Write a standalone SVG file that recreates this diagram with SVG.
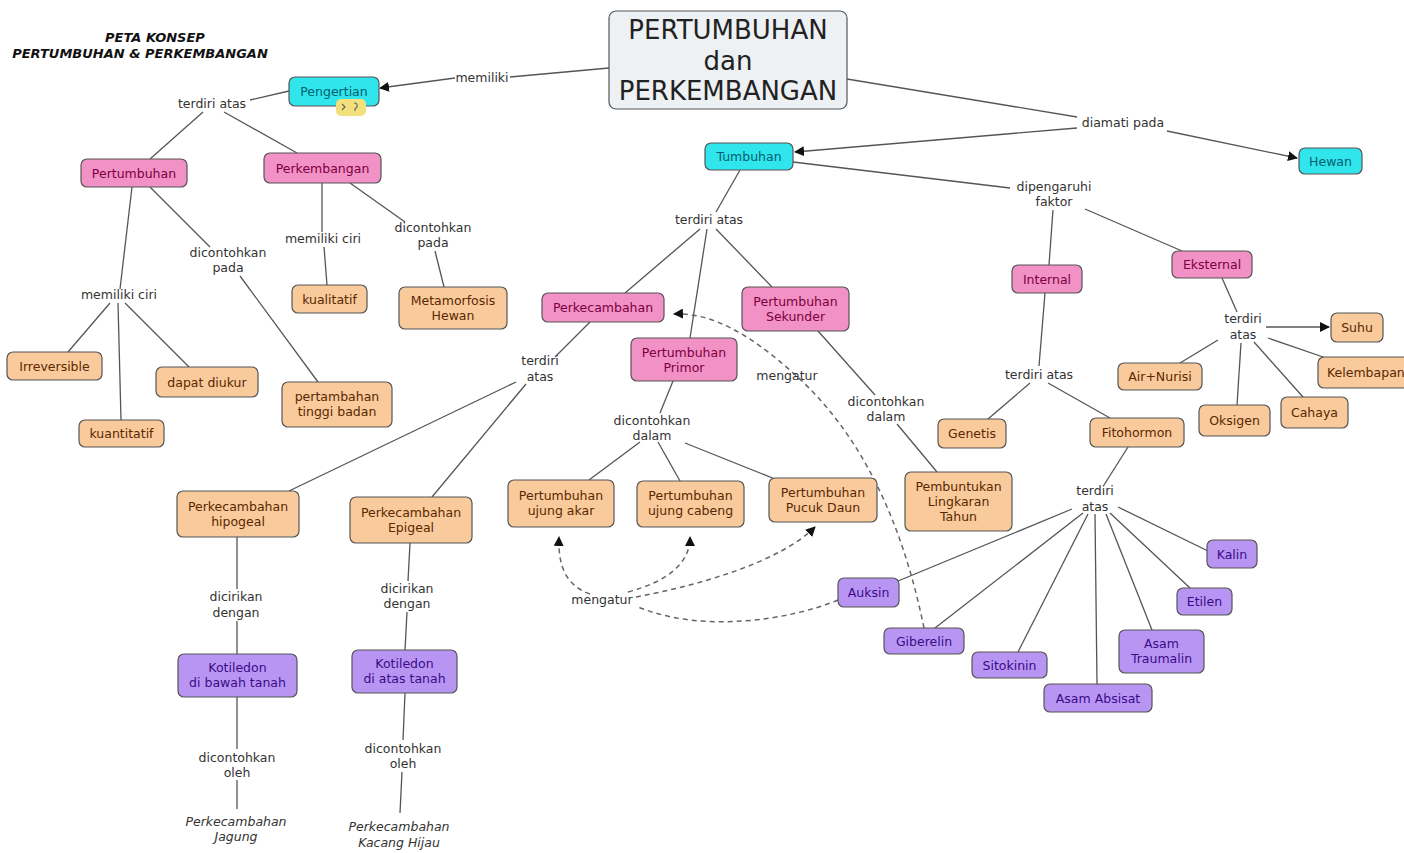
<svg xmlns="http://www.w3.org/2000/svg" width="1404" height="853" viewBox="0 0 1404 853">
<style>
text{font-family:"DejaVu Sans","Liberation Sans",sans-serif;font-size:12.5px;text-anchor:middle}
.n rect{stroke:#555;stroke-width:1.2}
.cy rect{fill:#30e5ec}.cy text{fill:#005f6e}
.pk rect{fill:#f291c5}.pk text{fill:#7a0040}
.or rect{fill:#f9ca9c}.or text{fill:#5a2800}
.pu rect{fill:#b995f3}.pu text{fill:#3a0b88}
.lbl text{fill:#333}
.it{font-style:italic}
#links path{fill:none;stroke:#555;stroke-width:1.3}
#links .d{stroke-dasharray:5 4;stroke:#666;stroke-width:1.5}
.title{font-weight:bold;font-style:italic;font-size:13px;fill:#111}
</style>
<defs>
<marker id="ar" viewBox="0 0 10 10" refX="9" refY="5" markerWidth="10" markerHeight="10" markerUnits="userSpaceOnUse" orient="auto">
<path d="M0,0 L10,5 L0,10 z" fill="#111"/>
</marker>
</defs>
<rect width="1404" height="853" fill="#fff"/>

<g id="heading">
<text class="title" x="155" y="42">PETA KONSEP</text>
<text class="title" x="140" y="58">PERTUMBUHAN &amp; PERKEMBANGAN</text>
</g>

<g id="links">
<path d="M609,68 L510,77"/>
<path d="M455,78 L380,88" marker-end="url(#ar)"/>
<path d="M289,91 L250,100"/>
<path d="M203,112 L150,159"/>
<path d="M224,112 L297,153"/>
<path d="M847,79 L1077,117"/>
<path d="M1077,128 L795,152" marker-end="url(#ar)"/>
<path d="M1167,131 L1297,158" marker-end="url(#ar)"/>
<path d="M740,170 L716,212"/>
<path d="M793,162 L1010,188"/>
<path d="M1053,210 L1049,265"/>
<path d="M1085,209 L1182,251"/>
<path d="M700,229 L625,293"/>
<path d="M707,229 L690,338"/>
<path d="M716,229 L772,287"/>
<path d="M322,183 L322,232"/>
<path d="M324,247 L327,285"/>
<path d="M350,183 L405,222"/>
<path d="M435,251 L444,287"/>
<path d="M132,187 L120,289"/>
<path d="M110,303 L68,352"/>
<path d="M118,303 L121,420"/>
<path d="M125,303 L189,367"/>
<path d="M150,187 L210,247"/>
<path d="M240,276 L318,382"/>
<path d="M590,322 L555,357"/>
<path d="M516,382 L289,491"/>
<path d="M526,384 L432,497"/>
<path d="M673,381 L660,413"/>
<path d="M640,442 L589,480"/>
<path d="M658,442 L680,481"/>
<path d="M685,443 L775,479"/>
<path d="M818,331 L875,395"/>
<path d="M897,424 L937,472"/>
<path d="M1045,293 L1039,366"/>
<path d="M1030,383 L988,419"/>
<path d="M1048,383 L1110,418"/>
<path d="M1222,278 L1237,312"/>
<path d="M1266,327 L1329,327" marker-end="url(#ar)"/>
<path d="M1218,340 L1180,363"/>
<path d="M1241,343 L1237,405"/>
<path d="M1254,342 L1303,397"/>
<path d="M1268,338 L1326,358"/>
<path d="M1128,447 L1104,485"/>
<path d="M1118,507 L1208,551"/>
<path d="M1110,513 L1190,588"/>
<path d="M1106,514 L1152,630"/>
<path d="M1095,514 L1097,684"/>
<path d="M1088,514 L1018,652"/>
<path d="M1083,513 L935,628"/>
<path d="M1072,509 L898,581"/>
<path d="M237,537 L237,589"/>
<path d="M237,621 L237,654"/>
<path d="M237,697 L237,749"/>
<path d="M237,780 L237,809"/>
<path d="M410,543 L408,581"/>
<path d="M407,612 L405,650"/>
<path d="M405,693 L403,740"/>
<path d="M402,772 L400,813"/>
<path class="d" d="M924,628 C906,540 870,440 792,372 C752,336 712,312 674,314" marker-end="url(#ar)"/>
<path class="d" d="M838,600 C790,620 700,634 636,606"/>
<path class="d" d="M590,594 C565,585 558,565 559,537" marker-end="url(#ar)"/>
<path class="d" d="M628,592 C665,582 690,565 690,537" marker-end="url(#ar)"/>
<path class="d" d="M636,597 C700,585 780,562 815,527" marker-end="url(#ar)"/>
</g>

<g id="main" class="n">
<rect x="609" y="11" width="238" height="98" rx="7" fill="#eef1f4" stroke="#666"/>
<text x="728" y="39" style="font-size:26px;fill:#222">PERTUMBUHAN</text>
<text x="728" y="70" style="font-size:26px;fill:#222">dan</text>
<text x="728" y="100" style="font-size:26px;fill:#222">PERKEMBANGAN</text>
</g>

<g id="pengertian" class="n cy">
<rect x="289" y="77" width="90" height="29" rx="6"/>
<text x="334" y="96">Pengertian</text>
<rect x="336" y="99" width="30" height="17" rx="5" style="fill:#f1e07c;stroke:none"/>
<path d="M342,104 l3,3 l-3,3 M354,103 q4,0 3,4 l-2,2 v2" fill="none" stroke="#666" stroke-width="1.2"/>
</g>
<g id="tumbuhan" class="n cy"><rect x="705" y="143" width="88" height="27" rx="6"/><text x="749" y="161">Tumbuhan</text></g>
<g id="hewan" class="n cy"><rect x="1299" y="148" width="63" height="26" rx="6"/><text x="1330.5" y="165.5">Hewan</text></g>

<g id="pertumbuhan" class="n pk"><rect x="81" y="159" width="106" height="28" rx="6"/><text x="134" y="177.5">Pertumbuhan</text></g>
<g id="perkembangan" class="n pk"><rect x="264" y="153" width="117" height="30" rx="6"/><text x="322.5" y="172.5">Perkembangan</text></g>
<g id="internal" class="n pk"><rect x="1012" y="265" width="70" height="28" rx="6"/><text x="1047" y="283.5">Internal</text></g>
<g id="eksternal" class="n pk"><rect x="1172" y="251" width="80" height="27" rx="6"/><text x="1212" y="269">Eksternal</text></g>
<g id="perkecambahan" class="n pk"><rect x="542" y="293" width="122" height="29" rx="6"/><text x="603" y="312">Perkecambahan</text></g>
<g id="sekunder" class="n pk"><rect x="742" y="287" width="107" height="44" rx="6"/><text x="795.5" y="306">Pertumbuhan</text><text x="795.5" y="321">Sekunder</text></g>
<g id="primor" class="n pk"><rect x="631" y="338" width="106" height="43" rx="6"/><text x="684" y="356.5">Pertumbuhan</text><text x="684" y="371.5">Primor</text></g>

<g id="kualitatif" class="n or"><rect x="292" y="285" width="75" height="28" rx="6"/><text x="329.5" y="303.5">kualitatif</text></g>
<g id="metamorfosis" class="n or"><rect x="399" y="287" width="108" height="42" rx="6"/><text x="453" y="305">Metamorfosis</text><text x="453" y="320">Hewan</text></g>
<g id="irreversible" class="n or"><rect x="7" y="352" width="95" height="28" rx="6"/><text x="54.5" y="370.5">Irreversible</text></g>
<g id="dapatdiukur" class="n or"><rect x="156" y="367" width="102" height="30" rx="6"/><text x="207" y="386.5">dapat diukur</text></g>
<g id="kuantitatif" class="n or"><rect x="79" y="420" width="85" height="27" rx="6"/><text x="121.5" y="438">kuantitatif</text></g>
<g id="pertambahan" class="n or"><rect x="282" y="382" width="110" height="45" rx="6"/><text x="337" y="401">pertambahan</text><text x="337" y="416">tinggi badan</text></g>
<g id="hipogeal" class="n or"><rect x="177" y="491" width="122" height="46" rx="6"/><text x="238" y="510.5">Perkecambahan</text><text x="238" y="525.5">hipogeal</text></g>
<g id="epigeal" class="n or"><rect x="350" y="497" width="122" height="46" rx="6"/><text x="411" y="516.5">Perkecambahan</text><text x="411" y="531.5">Epigeal</text></g>
<g id="ujungakar" class="n or"><rect x="508" y="480" width="106" height="47" rx="6"/><text x="561" y="499.5">Pertumbuhan</text><text x="561" y="514.5">ujung akar</text></g>
<g id="ujungcabeng" class="n or"><rect x="637" y="481" width="107" height="46" rx="6"/><text x="690.5" y="500">Pertumbuhan</text><text x="690.5" y="515">ujung cabeng</text></g>
<g id="pucukdaun" class="n or"><rect x="769" y="478" width="108" height="44" rx="6"/><text x="823" y="496.5">Pertumbuhan</text><text x="823" y="511.5">Pucuk Daun</text></g>
<g id="pembuntukan" class="n or"><rect x="905" y="472" width="107" height="59" rx="6"/><text x="958.5" y="491">Pembuntukan</text><text x="958.5" y="506">Lingkaran</text><text x="958.5" y="521">Tahun</text></g>
<g id="genetis" class="n or"><rect x="938" y="419" width="68" height="29" rx="6"/><text x="972" y="438">Genetis</text></g>
<g id="fitohormon" class="n or"><rect x="1090" y="418" width="94" height="29" rx="6"/><text x="1137" y="437">Fitohormon</text></g>
<g id="airnurisi" class="n or"><rect x="1118" y="363" width="84" height="27" rx="6"/><text x="1160" y="381">Air+Nurisi</text></g>
<g id="oksigen" class="n or"><rect x="1199" y="405" width="71" height="31" rx="6"/><text x="1234.5" y="425">Oksigen</text></g>
<g id="cahaya" class="n or"><rect x="1281" y="397" width="67" height="31" rx="6"/><text x="1314.5" y="417">Cahaya</text></g>
<g id="suhu" class="n or"><rect x="1331" y="313" width="52" height="29" rx="6"/><text x="1357" y="332">Suhu</text></g>
<g id="kelembapan" class="n or"><rect x="1318" y="357" width="100" height="31" rx="6"/><text x="1327" y="377" style="text-anchor:start">Kelembapan</text></g>

<g id="kalin" class="n pu"><rect x="1207" y="540" width="50" height="28" rx="6"/><text x="1232" y="558.5">Kalin</text></g>
<g id="etilen" class="n pu"><rect x="1177" y="588" width="55" height="27" rx="6"/><text x="1204.5" y="606">Etilen</text></g>
<g id="traumalin" class="n pu"><rect x="1119" y="630" width="85" height="43" rx="6"/><text x="1161.5" y="648">Asam</text><text x="1161.5" y="663">Traumalin</text></g>
<g id="absisat" class="n pu"><rect x="1044" y="684" width="108" height="28" rx="6"/><text x="1098" y="702.5">Asam Absisat</text></g>
<g id="sitokinin" class="n pu"><rect x="972" y="652" width="75" height="26" rx="6"/><text x="1009.5" y="669.5">Sitokinin</text></g>
<g id="giberelin" class="n pu"><rect x="884" y="628" width="80" height="26" rx="6"/><text x="924" y="645.5">Giberelin</text></g>
<g id="auksin" class="n pu"><rect x="838" y="578" width="61" height="29" rx="6"/><text x="868.5" y="597">Auksin</text></g>
<g id="kotbawah" class="n pu"><rect x="178" y="654" width="119" height="43" rx="6"/><text x="237.5" y="672">Kotiledon</text><text x="237.5" y="687">di bawah tanah</text></g>
<g id="kotatas" class="n pu"><rect x="352" y="650" width="105" height="43" rx="6"/><text x="404.5" y="668">Kotiledon</text><text x="404.5" y="683">di atas tanah</text></g>

<g id="jagung" class="lbl"><text class="it" x="236" y="826">Perkecambahan</text><text class="it" x="236" y="841">Jagung</text></g>
<g id="kacanghijau" class="lbl"><text class="it" x="399" y="831">Perkecambahan</text><text class="it" x="399" y="847">Kacang Hijau</text></g>

<g id="labels" class="lbl">
<text x="482" y="82">memiliki</text>
<text x="212" y="108">terdiri atas</text>
<text x="1123" y="127">diamati pada</text>
<text x="1054" y="191">dipengaruhi</text><text x="1054" y="206">faktor</text>
<text x="709" y="224">terdiri atas</text>
<text x="323" y="243">memiliki ciri</text>
<text x="433" y="232">dicontohkan</text><text x="433" y="247">pada</text>
<text x="228" y="257">dicontohkan</text><text x="228" y="272">pada</text>
<text x="119" y="299">memiliki ciri</text>
<text x="540" y="365">terdiri</text><text x="540" y="381">atas</text>
<text x="787" y="380">mengatur</text>
<text x="652" y="425">dicontohkan</text><text x="652" y="440">dalam</text>
<text x="886" y="406">dicontohkan</text><text x="886" y="421">dalam</text>
<text x="1039" y="379">terdiri atas</text>
<text x="1243" y="323">terdiri</text><text x="1243" y="339">atas</text>
<text x="1095" y="495">terdiri</text><text x="1095" y="511">atas</text>
<text x="236" y="601">dicirikan</text><text x="236" y="617">dengan</text>
<text x="407" y="593">dicirikan</text><text x="407" y="608">dengan</text>
<text x="602" y="604">mengatur</text>
<text x="237" y="762">dicontohkan</text><text x="237" y="777">oleh</text>
<text x="403" y="753">dicontohkan</text><text x="403" y="768">oleh</text>
</g>
</svg>
